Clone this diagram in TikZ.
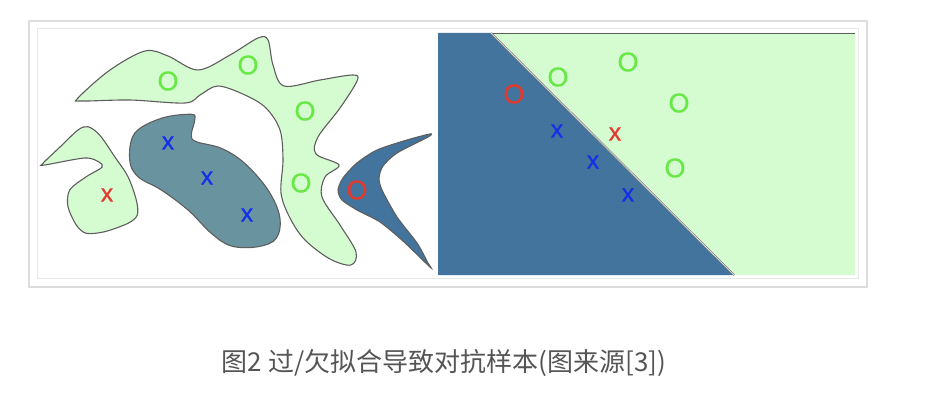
\documentclass[tikz,border=0pt]{standalone}
\usepackage{fontspec}
\setmainfont{Liberation Sans}
\newfontfamily\mkfont{Liberation Sans}[FakeBold=0.6]
\newfontfamily\cjk{Noto Sans CJK SC}
\definecolor{lgreen}{HTML}{D5FBD0}
\definecolor{outl}{HTML}{5E5E5E}
\definecolor{teal}{HTML}{6A93A0}
\definecolor{dblue}{HTML}{42749E}
\definecolor{gO}{HTML}{66E845}
\definecolor{rmark}{HTML}{E23A2E}
\definecolor{bx}{HTML}{1430E6}
\definecolor{frame1}{HTML}{DCDCDC}
\definecolor{frame2}{HTML}{E8E8E8}
\definecolor{captc}{HTML}{555555}
\tikzset{
  blob/.style={draw=outl, line width=1.1pt},
  mk/.style={inner sep=0pt, font=\mkfont\fontsize{27}{27}\selectfont},
  mkx/.style={inner sep=0pt, font=\mkfont\fontsize{25}{25}\selectfont},
}
\begin{document}
\begin{tikzpicture}[x=1pt,y=-1pt]
\useasboundingbox[fill=white] (0,0) rectangle (930,412);
% frames
\draw[frame1, line width=1.8pt] (29,21) rectangle (867,287);
\draw[frame2, line width=1pt] (37,29) rectangle (858,278);
% left panel blobs
\draw[blob, fill=lgreen] plot[smooth cycle, tension=0.55] coordinates {
 (78,98) (110,70) (145,51) (168,56) (198,70) (230,55) (258,38) (268,40)
 (273,65) (284,86) (320,80) (353,75) (357,81) (340,108) (318,137)
 (316,154) (339,165) (325,177) (322,197) (340,225) (356,252) (351,265)
 (330,259) (305,240) (290,218) (281,193) (283,160) (280,130) (266,108)
 (245,95) (218,86) (200,95) (185,103) (130,100) (82,101)};
\draw[blob, fill=teal] plot[smooth cycle, tension=0.6] coordinates {
 (129.7,160) (134.7,133.3) (161.3,118.3) (191.3,114.3) (194.7,120)
 (191.3,135) (196.3,141.7) (221.3,148.3) (244.7,163.3) (268,190)
 (279.7,216.7) (276.3,238.3) (258,246.7) (231.3,246) (211.3,233.3)
 (188,210) (161.3,190) (138,176.7)};
\draw[blob, fill=lgreen] plot[smooth cycle, tension=0.5] coordinates {
 (43,163.3) (60,147) (78,130) (88,126.7) (99.7,135) (114.7,156.7)
 (128,176.7) (136.3,200) (137.3,215) (128,223.3) (104.7,231.7)
 (86.3,233.3) (76.3,225) (68,206.7) (69.7,190) (86.3,176.7) (102,167.3)
 (99,162) (84.7,158) (44.7,165)};
\draw[blob, fill=dblue] plot[smooth cycle, tension=0.45] coordinates {
 (430,134) (407,140) (377,150) (357,163) (343,178) (338,190) (342,200)
 (357,210) (380,222) (403,241) (430,267) (428,263) (417,243) (397,217)
 (382,190) (379,178) (383,166) (397,153) (428,137)};
% left panel marks
\node[mk, text=gO] (lo1) at (168,81) {O};
\node[mk, text=gO] (lo2) at (248,65) {O};
\node[mk, text=gO] (lo3) at (305,111) {O};
\node[mk, text=gO] (lo4) at (301,183) {O};
\node[mk, text=rmark] (lo5) at (357,190) {O};
\node[mkx, text=bx] (lx1) at (168,143) {x};
\node[mkx, text=bx] (lx2) at (207,178) {x};
\node[mkx, text=bx] (lx3) at (247,215) {x};
\node[mkx, text=rmark] (lx4) at (107,195) {x};
% right panel
\coordinate (tl) at (438,33);
\coordinate (tm) at (491,33);
\coordinate (tr) at (855,33);
\coordinate (br) at (855,275);
\coordinate (bm) at (734,275);
\coordinate (bl) at (438,275);
\fill[dblue] (tl) -- (tm) -- (bm) -- (bl) -- cycle;
\fill[lgreen] (tm) -- (tr) -- (br) -- (bm) -- cycle;
\draw[outl, line width=0.8pt] (tm) -- (tr);
\draw[gray, line width=2pt] (tm) -- (bm);
\draw[white!80!gray, line width=0.6pt] (tm) -- (bm);
\node[mk, text=rmark] (ro1) at (514,94) {O};
\node[mk, text=gO] (ro2) at (558,77) {O};
\node[mk, text=gO] (ro3) at (628,62) {O};
\node[mk, text=gO] (ro4) at (679,103) {O};
\node[mk, text=gO] (ro5) at (675,168) {O};
\node[mkx, text=bx] (rx1) at (557,131) {x};
\node[mkx, text=rmark] (rx2) at (615,134) {x};
\node[mkx, text=bx] (rx3) at (593,162) {x};
\node[mkx, text=bx] (rx4) at (628,195) {x};
% caption
\node[text=captc, font=\cjk\fontsize{26}{26}\selectfont, inner sep=0pt] (cap) at (444,363) {图2 过/欠拟合导致对抗样本(图来源[3])};
\end{tikzpicture}
\end{document}
